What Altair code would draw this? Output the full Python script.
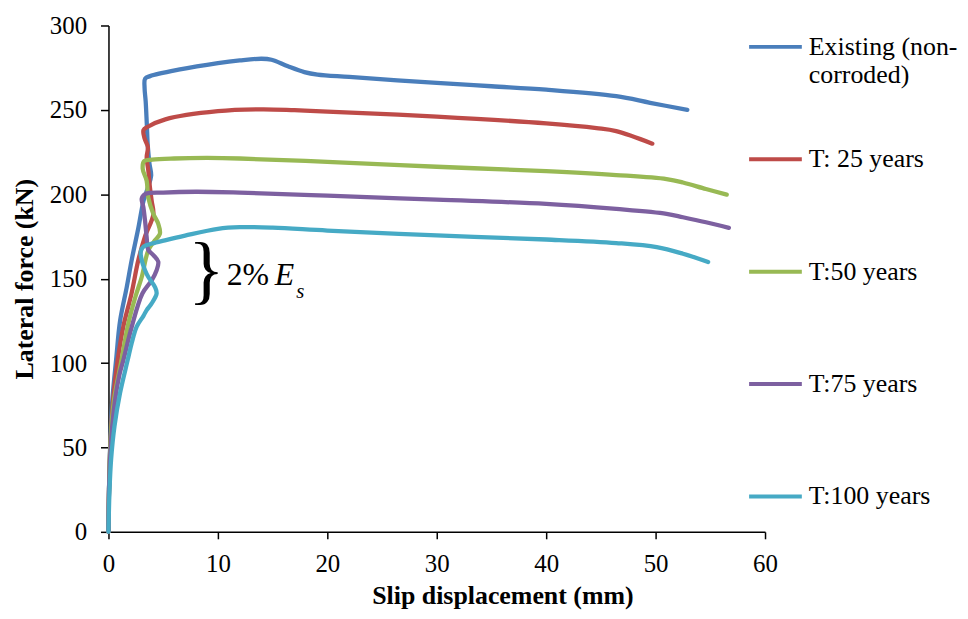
import altair as alt
import pandas as pd

series_names = ["Existing (non-corroded)", "T: 25 years", "T:50 years", "T:75 years", "T:100 years"]
series_colors = ["#4A7EBB", "#BE4B48", "#98B954", "#7D60A0", "#46AAC5"]

existing_x = [0, 0.05, 0.15, 0.35, 0.7, 1.06, 1.67, 2.12, 2.73, 3.2, 3.6, 3.9, 3.75, 3.6, 3.5, 3.4, 3.3, 3.35, 3.8, 6.4, 10, 12, 14, 14.9, 16.4, 17.9, 19.1, 22, 30, 35, 40, 46.4, 49.5, 52.9]
existing_y = [0, 25, 50, 78, 102, 125, 145, 161, 180, 196, 204, 211, 218, 228, 242, 255, 263, 268.5, 270, 273.8, 277.7, 279.3, 280.3, 279.7, 275.8, 272.4, 270.9, 269.5, 266, 264, 262, 258.1, 254.2, 250]

t25_x = [0, 0.05, 0.2, 0.45, 0.85, 1.37, 2.1, 2.73, 3.34, 4.1, 3.95, 3.79, 3.64, 3.49, 3.6, 3.3, 3.2, 3.6, 5.2, 10, 14, 17, 20, 30, 40, 44.6, 46.4, 49.7]
t25_y = [0, 25, 55, 80, 102, 122, 141, 161, 175, 188, 196, 204, 214, 222, 228, 233, 238, 240, 244.4, 249.2, 250.3, 249.8, 249, 246, 242, 239.2, 237.4, 230]

t50_x = [0, 0.05, 0.2, 0.5, 1.2, 1.8, 2.45, 3.04, 3.64, 4.25, 4.7, 4.55, 4.1, 3.64, 3.49, 3.13, 3.25, 4.0, 6, 9, 12, 20, 30, 40, 46.4, 51, 52.5, 54.6, 56.5]
t50_y = [0, 25, 55, 78, 102, 123, 139, 151, 166.8, 172.7, 176.6, 182.5, 188.4, 198, 208, 215, 219.5, 220.5, 221.2, 221.5, 221.2, 219.2, 216.3, 213.7, 211.4, 209, 207, 203.1, 199.8]

t75_x = [0, 0.05, 0.25, 0.6, 1.0, 1.37, 2.13, 3.1, 3.95, 4.4, 4.55, 4.1, 3.64, 3.49, 3.34, 3.19, 3.04, 3.4, 5, 8, 12, 20, 30, 40, 46.4, 51, 52.5, 54.6, 56.7]
t75_y = [0, 25, 55, 78, 93, 102, 121.6, 141.2, 149, 155, 160, 164, 167, 174.6, 184.4, 192.3, 197.5, 200.2, 201, 201.5, 201, 199.2, 196.8, 194.3, 191.3, 188.4, 186.4, 183.4, 180.1]

t100_x = [0, 0.09, 0.24, 0.55, 1.06, 1.76, 2.12, 2.58, 3.2, 3.49, 3.95, 4.4, 4.25, 3.64, 3.34, 3.04, 2.95, 3.2, 4.0, 5.16, 7, 10, 12, 15, 20, 30, 40, 46.4, 50.1, 52.5, 54.8]
t100_y = [0, 23.5, 43, 62.6, 82.3, 101.9, 111.8, 121.6, 128, 131.4, 135.4, 141.2, 145, 151, 155, 160.9, 166, 169, 170.8, 172.7, 175.5, 179.5, 180.5, 180.2, 178.5, 175.6, 173.2, 171.1, 168.7, 164.8, 159.9]

x_ticks = [0, 10, 20, 30, 40, 50, 60]
y_ticks = [0, 50, 100, 150, 200, 250, 300]

all_x = [existing_x, t25_x, t50_x, t75_x, t100_x]
all_y = [existing_y, t25_y, t50_y, t75_y, t100_y]

rows = []
for name, xs, ys in zip(series_names, all_x, all_y):
    for i, (a, b) in enumerate(zip(xs, ys)):
        rows.append({"series": name, "x": a, "y": b, "order": i})
df = pd.DataFrame(rows)

FONT = "Liberation Serif"

xscale = alt.Scale(domain=[0, 60], nice=False, zero=False)
yscale = alt.Scale(domain=[0, 300], nice=False, zero=False)

label_expr = ("datum.label == 'Existing (non-corroded)' ? ['Existing (non-', 'corroded)'] : [datum.label, ' ']")

lines = alt.Chart(df).mark_line(interpolate="catmull-rom", strokeWidth=4.3, strokeCap="round", strokeJoin="round").encode(
    x=alt.X("x:Q", scale=xscale,
            axis=alt.Axis(values=x_ticks, title="Slip displacement (mm)", grid=False, labelFlush=False,
                          labelFont=FONT, labelFontSize=25, labelColor="black", labelPadding=13,
                          titleFont=FONT, titleFontSize=26, titleFontWeight="bold", titleColor="black",
                          titleX=396, titleY=72, titleBaseline="alphabetic", titleAlign="center",
                          domainColor="black", domainWidth=1.5, tickColor="black", tickSize=7, tickWidth=1.5)),
    y=alt.Y("y:Q", scale=yscale,
            axis=alt.Axis(values=y_ticks, title="Lateral force (kN)", grid=False, labelFlush=False,
                          labelFont=FONT, labelFontSize=25, labelColor="black", labelPadding=14,
                          titleFont=FONT, titleFontSize=26, titleFontWeight="bold", titleColor="black",
                          titleX=-76, titleY=254.5, titleBaseline="alphabetic", titleAlign="center", titleAngle=270,
                          domainColor="black", domainWidth=1.5, tickColor="black", tickSize=8, tickWidth=1.5)),
    color=alt.Color("series:N", scale=alt.Scale(domain=series_names, range=series_colors),
                    legend=alt.Legend(title=None, orient="none", legendX=642, legendY=-7,
                                      symbolType="stroke", symbolSize=2809, symbolStrokeWidth=4,
                                      labelFont=FONT, labelFontSize=26, labelColor="black",
                                      labelOffset=5, rowPadding=43, labelLimit=300,
                                      labelExpr=label_expr)),
    order="order:Q",
)

ann_brace = pd.DataFrame({"x": [7.3], "y": [140.5], "t": ["}"]})
ann_pct = pd.DataFrame({"x": [10.8], "y": [146.1], "t": ["2%"]})
ann_E = pd.DataFrame({"x": [15.2], "y": [146.1], "t": ["E"]})
ann_s = pd.DataFrame({"x": [17.15], "y": [138.5], "t": ["s"]})

def txt(d, size, style="normal"):
    return alt.Chart(d).mark_text(font=FONT, fontSize=size, fontStyle=style, align="left",
                                  baseline="alphabetic", color="black").encode(
        x=alt.X("x:Q", scale=xscale), y=alt.Y("y:Q", scale=yscale), text="t:N")

chart = alt.layer(lines, txt(ann_brace, 76), txt(ann_pct, 32), txt(ann_E, 32, "italic"), txt(ann_s, 21, "italic")).properties(
    width=660, height=509,
    autosize=alt.AutoSizeParams(type="none"),
    padding={"left": 101, "top": 16, "right": 196, "bottom": 78},
).configure(background="white").configure_view(stroke=None)

chart.save("out.html", embed_options={"renderer": "svg", "actions": False})
